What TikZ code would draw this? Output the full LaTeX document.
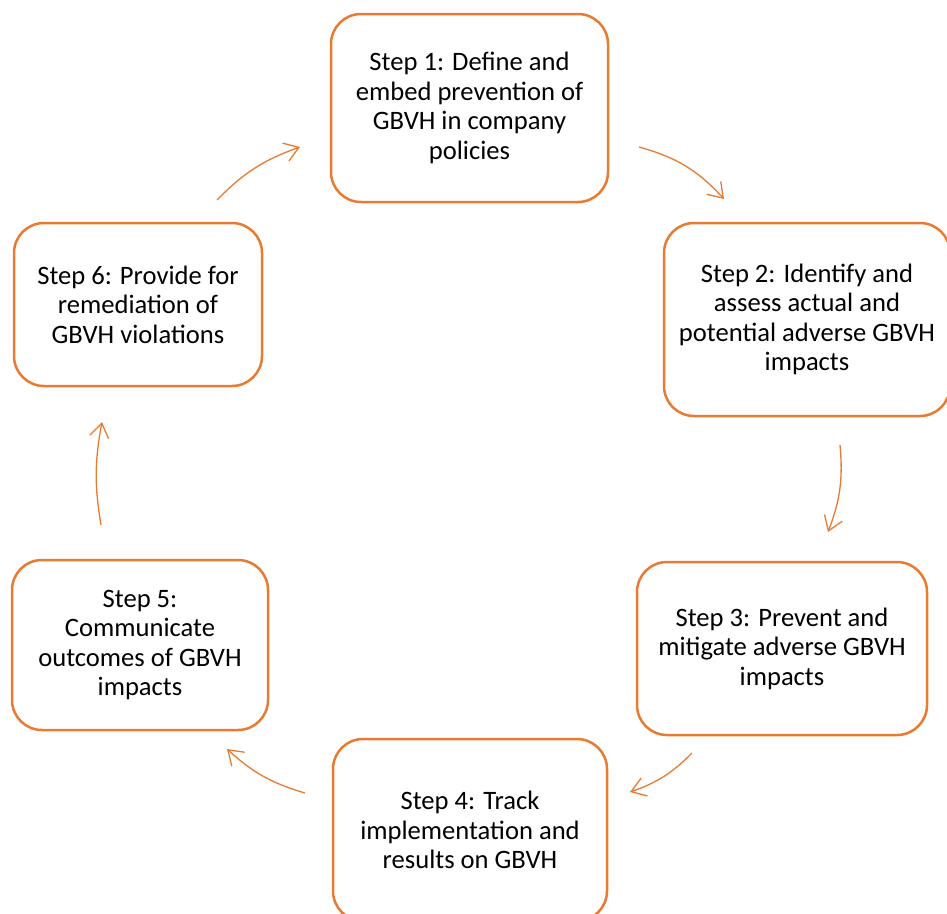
\documentclass[tikz,border=0pt]{standalone}
\usepackage{fontspec}
\setmainfont{Carlito}
\usetikzlibrary{arrows.meta}
\definecolor{steporange}{RGB}{232,122,50}

\begin{document}
\begin{tikzpicture}[x=1pt,y=-1pt,
  box/.style={draw=steporange,line width=2.5pt,rounded corners=30pt,align=center,
    inner sep=0pt,font=\fontsize{26.6}{29.5}\selectfont},
  cycle/.style={draw=steporange,line width=1.3pt,
    -{Straight Barb[length=14pt,width=19pt]},bend left=13}]
\useasboundingbox (0,0) rectangle (947,913);
\clip (0,0) rectangle (947,913);

\node[box,minimum width=277,minimum height=188] (s1) at (469.5,108) {Step 1: Define and\\embed prevention of\\GBVH in company\\policies};
\node[box,minimum width=286,minimum height=193] (s2) at (807,319.5) {Step 2: Identify and\\assess actual and\\potential adverse GBVH\\impacts};
\node[box,minimum width=290,minimum height=173] (s3) at (782,648.5) {Step 3: Prevent and\\mitigate adverse GBVH\\impacts};
\node[box,minimum width=274,minimum height=182] (s4) at (470,830) {Step 4: Track\\implementation and\\results on GBVH};
\node[box,minimum width=256,minimum height=170] (s5) at (140,645) {Step 5:\\Communicate\\outcomes of GBVH\\impacts};
\node[box,minimum width=248,minimum height=163] (s6) at (138,304.5) {Step 6: Provide for\\remediation of\\GBVH violations};

\coordinate (c1a) at (639,147);
\coordinate (c1b) at (724,199);
\coordinate (c2a) at (840,445);
\coordinate (c2b) at (828,532);
\coordinate (c3a) at (692,753);
\coordinate (c3b) at (630,792);
\coordinate (c4a) at (305,793);
\coordinate (c4b) at (227,749);
\coordinate (c5a) at (101,525);
\coordinate (c5b) at (102,422);
\coordinate (c6a) at (217,200);
\coordinate (c6b) at (300,147);

\draw[cycle,bend left=16] (c1a) to (c1b);
\draw[cycle] (c2a) to (c2b);
\draw[cycle] (c3a) to (c3b);
\draw[cycle] (c4a) to (c4b);
\draw[cycle,bend left=10] (c5a) to (c5b);
\draw[cycle] (c6a) to (c6b);
\end{tikzpicture}
\end{document}
